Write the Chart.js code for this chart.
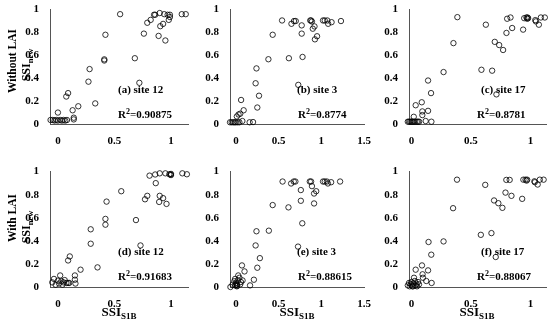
<!DOCTYPE html>
<html>
<head>
<meta charset="utf-8">
<script src="https://cdn.jsdelivr.net/npm/chart.js@4/dist/chart.umd.min.js"></script>
<style>
  body { margin: 0; background: #fff; }
  #wrap { position: relative; width: 550px; height: 323px; overflow: hidden; font-family: "Liberation Serif", serif; font-weight: bold; color: #000; }
  canvas { position: absolute; }
  .lbl { position: absolute; font-size: 11px; white-space: nowrap; line-height: 1; }
  .ytitle, .xtitle { position: absolute; width: 100px; height: 16px; line-height: 16px; text-align: center; white-space: nowrap; }
  .ytitle { transform: rotate(-90deg); }
  .xtitle { font-size: 13px; }
  sub { font-size: 9px; vertical-align: -3px; line-height: 0; }
  sup { font-size: 8px; vertical-align: 4px; line-height: 0; }
  .ytitle sub { font-size: 8.5px; }
</style>
</head>
<body>
<div id="wrap"></div>
<script>
// tick labels
const yTicks = [0, 0.2, 0.4, 0.6, 0.8, 1];
const xTicksShort = [0, 0.5, 1];
const xTicksLong = [0, 0.5, 1, 1.5];

// (a) site 12, without LAI
const xA = [-0.065, -0.045, -0.03, -0.015, 0, 0.02, 0.035, 0.05, 0.065, 0.08,
  0.14, 0.14, 0.0, 0.074, 0.09, 0.13, 0.18, 0.27, 0.28, 0.33,
  0.41, 0.41, 0.42, 0.55, 0.68, 0.72, 0.76, 0.79, 0.82, 0.85,
  0.86, 0.90, 0.89, 0.905, 0.93, 0.94, 0.95, 0.97, 0.98, 0.99,
  0.99, 1.095, 1.13];
const yA = [0.035, 0.035, 0.03, 0.035, 0.03, 0.035, 0.03, 0.035, 0.03, 0.035,
  0.04, 0.055, 0.10, 0.24, 0.27, 0.12, 0.155, 0.37, 0.48, 0.18,
  0.555, 0.565, 0.78, 0.96, 0.575, 0.36, 0.79, 0.885, 0.91, 0.955,
  0.955, 0.97, 0.77, 0.855, 0.875, 0.96, 0.73, 0.955, 0.91, 0.955,
  0.935, 0.96, 0.96];

// (b) site 3, without LAI
const xB = [-0.07, -0.05, -0.03, -0.015, 0, 0.02, 0.04, 0.01, 0.03, 0.05,
  0.06, 0.09, 0.075, 0.16, 0.2, 0.23, 0.24, 0.25, 0.27, 0.38,
  0.43, 0.54, 0.62, 0.65, 0.68, 0.70, 0.73, 0.77, 0.77, 0.78,
  0.87, 0.88, 0.89, 0.90, 0.92, 0.925, 0.95, 1.02, 1.04, 1.07,
  1.08, 1.12, 1.23];
const yB = [0.015, 0.015, 0.015, 0.015, 0.015, 0.015, 0.015, 0.066, 0.083, 0.09,
  0.21, 0.12, 0.026, 0.015, 0.017, 0.356, 0.486, 0.144, 0.247, 0.566,
  0.78, 0.905, 0.575, 0.876, 0.9, 0.9, 0.342, 0.862, 0.79, 0.586,
  0.905, 0.905, 0.896, 0.833, 0.853, 0.74, 0.767, 0.905, 0.905, 0.905,
  0.876, 0.89, 0.9];

// (c) site 17, without LAI
const xC = [-0.03, -0.02, -0.01, 0, 0.01, 0.02, 0.03, 0.045, 0.055, 0.065,
  0.02, 0.036, 0.087, 0.092, 0.092, 0.12, 0.14, 0.14, 0.165, 0.168,
  0.27, 0.353, 0.386, 0.588, 0.625, 0.678, 0.70, 0.737, 0.77, 0.714,
  0.798, 0.804, 0.832, 0.846, 0.938, 0.947, 0.966, 0.975, 0.98, 0.972,
  1.04, 1.045, 1.07, 1.087, 1.12];
const yC = [0.02, 0.02, 0.02, 0.02, 0.02, 0.02, 0.02, 0.02, 0.02, 0.02,
  0.063, 0.164, 0.19, 0.11, 0.078, 0.026, 0.38, 0.115, 0.27, 0.02,
  0.454, 0.707, 0.934, 0.474, 0.868, 0.466, 0.718, 0.69, 0.647, 0.259,
  0.796, 0.92, 0.931, 0.839, 0.825, 0.925, 0.931, 0.931, 0.925, 0.92,
  0.908, 0.897, 0.868, 0.931, 0.931];

// (d) site 12, with LAI
const xD = [-0.05, -0.035, -0.02, 0, 0.01, 0.02, 0.03, 0.04, 0.05, 0.06,
  0.075, 0.09, 0.1, 0.09, 0.105, 0.15, 0.15, 0.155, 0.2, 0.29,
  0.29, 0.35, 0.42, 0.42, 0.43, 0.56, 0.69, 0.73, 0.77, 0.79,
  0.81, 0.86, 0.865, 0.9, 0.9, 0.895, 0.93, 0.96, 0.95, 0.985,
  0.995, 1.0, 1.0, 1.1, 1.14];
const yD = [0.04, 0.07, 0.02, 0.055, 0.03, 0.10, 0.05, 0.02, 0.04, 0.06,
  0.035, 0.035, 0.035, 0.23, 0.265, 0.10, 0.063, 0.03, 0.15, 0.50,
  0.375, 0.17, 0.54, 0.59, 0.74, 0.83, 0.58, 0.36, 0.76, 0.79,
  0.965, 0.975, 0.90, 0.985, 0.79, 0.737, 0.77, 0.72, 0.985, 0.977,
  0.975, 0.98, 0.97, 0.985, 0.977];

// (e) site 3, with LAI
const xE = [-0.065, -0.04, -0.02, -0.01, 0, 0.01, 0.02, 0.027, 0.04, 0.05,
  0.058, 0.01, -0.01, 0.015, 0.005, 0.07, 0.1, 0.077, 0.165, 0.21,
  0.23, 0.24, 0.25, 0.28, 0.385, 0.43, 0.546, 0.615, 0.646, 0.677,
  0.696, 0.727, 0.76, 0.76, 0.777, 0.865, 0.88, 0.89, 0.915, 0.94,
  0.915, 1.02, 1.04, 1.065, 1.077, 1.115, 1.22];
const yE = [0, 0.02, 0.05, 0.015, 0.035, 0.006, 0.057, 0.10, 0.08, 0.023,
  0.043, 0.023, 0.07, 0.01, 0.02, 0.187, 0.135, 0.057, 0.014, 0.063,
  0.36, 0.483, 0.167, 0.25, 0.488, 0.71, 0.914, 0.69, 0.897, 0.914,
  0.914, 0.35, 0.84, 0.747, 0.552, 0.914, 0.914, 0.874, 0.81, 0.83,
  0.724, 0.914, 0.914, 0.914, 0.897, 0.908, 0.914];

// (f) site 17, with LAI
const xF = [-0.03, -0.02, -0.014, -0.006, 0, 0.008, 0.014, 0.022, 0.028, 0.036,
  0.042, 0.047, 0.056, 0.064, 0.014, 0.036, 0.089, 0.094, 0.097, 0.125,
  0.14, 0.144, 0.167, 0.17, 0.27, 0.35, 0.383, 0.583, 0.62, 0.672,
  0.694, 0.73, 0.764, 0.708, 0.79, 0.797, 0.825, 0.84, 0.93, 0.94,
  0.958, 0.972, 0.967, 1.033, 1.036, 1.06, 1.078, 1.11];
const yF = [0.014, 0.035, 0.006, 0.023, 0.043, 0.006, 0.029, 0.08, 0.052, 0.014,
  0.029, 0.006, 0.043, 0.023, 0.006, 0.15, 0.187, 0.11, 0.08, 0.052,
  0.144, 0.39, 0.28, 0.035, 0.395, 0.683, 0.93, 0.452, 0.885, 0.467,
  0.75, 0.726, 0.686, 0.26, 0.818, 0.928, 0.928, 0.79, 0.764, 0.93,
  0.93, 0.93, 0.922, 0.916, 0.908, 0.888, 0.93, 0.93];

const labels = ["(a) site 12", "(b) site 3", "(c) site 17", "(d) site 12", "(e) site 3", "(f) site 17"];
const r2 = ["0.90875", "0.8774", "0.8781", "0.91683", "0.88615", "0.88067"];

const wrap = document.getElementById("wrap");
const padL = 32, padT = 8, padR = 10, padB = 22;
const tickFont = { family: "Liberation Serif", size: 11, weight: "bold" };

function addText(cls, html, x, y, extra) {
    const d = document.createElement("div");
    d.className = cls;
    d.innerHTML = html;
    d.style.left = x + "px";
    d.style.top = y + "px";
    if (extra) Object.assign(d.style, extra);
    wrap.appendChild(d);
}

// centred title box (100x16), rotated or not around its centre
function addTitle(cls, html, cx, cy, size) {
    addText(cls, html, cx - 50, cy - 8, size ? { fontSize: size } : null);
}

// ** One scatter panel, chart area given in page pixels **
function makePanel(xs, ys, xMin, xMax, xTicks, box, idx) {
    const canvas = document.createElement("canvas");
    canvas.width = box.r - box.l + padL + padR;
    canvas.height = box.b - box.t + padT + padB;
    canvas.style.left = (box.l - padL) + "px";
    canvas.style.top = (box.t - padT) + "px";
    wrap.appendChild(canvas);

    new Chart(canvas, {
        type: "scatter",
        data: {
            datasets: [{
                data: xs.map((x, i) => ({ x: x, y: ys[i] })),
                pointStyle: "circle",
                pointRadius: 2.7,
                borderWidth: 0.8,
                borderColor: "#000",
                backgroundColor: "rgba(0,0,0,0)",
                clip: false
            }]
        },
        options: {
            responsive: false,
            animation: false,
            devicePixelRatio: 1,
            layout: { padding: { top: padT, right: padR, left: 0, bottom: 0 } },
            plugins: { legend: { display: false }, tooltip: { enabled: false } },
            scales: {
                x: {
                    type: "linear", min: xMin, max: xMax,
                    afterBuildTicks: s => { s.ticks = xTicks.map(v => ({ value: v })); },
                    afterFit: s => { s.height = padB; },
                    grid: { display: false },
                    border: { display: true, color: "#555", width: 1 },
                    ticks: { padding: 3, color: "#000", font: tickFont, maxRotation: 0, autoSkip: false,
                             callback: v => String(v) }
                },
                y: {
                    type: "linear", min: 0, max: 1,
                    afterBuildTicks: s => { s.ticks = yTicks.map(v => ({ value: v })); },
                    afterFit: s => { s.width = padL; },
                    grid: { display: false },
                    border: { display: true, color: "#555", width: 1 },
                    ticks: { padding: 3, color: "#000", font: tickFont, autoSkip: false,
                             callback: v => String(v) }
                }
            }
        }
    });

    const dx = idx % 3 === 2 ? 4 : 0;
    addText("lbl", labels[idx], box.l + 68 + dx - (idx % 3 === 1 ? 1 : 0), box.t + 76);
    addText("lbl", "R<sup>2</sup>=" + r2[idx], box.l + 68, box.t + 101);
}

const rowTop = { t: 8, b: 124 };
const rowBot = { t: 170, b: 287 };
const colA = { l: 50, r: 188 }, colB = { l: 230, r: 364 }, colC = { l: 409, r: 546 };

makePanel(xA, yA, -0.07, 1.15, xTicksShort, Object.assign({}, colA, rowTop), 0);
makePanel(xB, yB, -0.07, 1.5, xTicksLong, Object.assign({}, colB, rowTop), 1);
makePanel(xC, yC, -0.02, 1.13, xTicksShort, Object.assign({}, colC, rowTop), 2);
makePanel(xD, yD, -0.07, 1.15, xTicksShort, Object.assign({}, colA, rowBot), 3);
makePanel(xE, yE, -0.07, 1.5, xTicksLong, Object.assign({}, colB, rowBot), 4);
makePanel(xF, yF, -0.02, 1.13, xTicksShort, Object.assign({}, colC, rowBot), 5);

// y titles
addTitle("ytitle", "Without LAI", 12, 61, "11.5px");
addTitle("ytitle", "SSI<sub>new</sub>", 26, 65, "12px");
addTitle("ytitle", "With LAI", 12, 218, "11.5px");
addTitle("ytitle", "SSI<sub>new</sub>", 26, 227, "12px");

// x titles
addTitle("xtitle", "SSI<sub>S1B</sub>", 119, 312);
addTitle("xtitle", "SSI<sub>S1B</sub>", 297, 312);
addTitle("xtitle", "SSI<sub>S1B</sub>", 477, 312);
</script>
</body>
</html>
